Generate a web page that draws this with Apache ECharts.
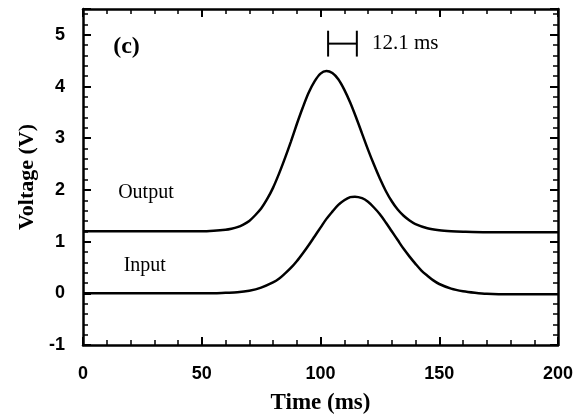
<!DOCTYPE html>
<html>
<head>
<meta charset="utf-8">
<script src="https://cdn.jsdelivr.net/npm/echarts@6/dist/echarts.min.js"></script>
<style>html,body{margin:0;padding:0;background:#fff;}#c{width:587px;height:415px;}</style>
</head>
<body>
<div id="c"></div>
<script>
// Output trace (time ms, voltage V)
const outputTime = [0,10,20,30,40,50,55,60,62.5,65,67.5,70,72.5,75,77.5,80,82.5,85,87.5,90,92.5,95,97.5,100,102.5,105,107.5,110,112.5,115,117.5,120,122.5,125,127.5,130,132.5,135,137.5,140,145,150,155,160,170,180,190,200];
const outputVolt = [1.2,1.2,1.2,1.2,1.2,1.2,1.21,1.23,1.25,1.28,1.33,1.4,1.51,1.64,1.82,2.04,2.31,2.61,2.93,3.27,3.59,3.88,4.1,4.25,4.3,4.26,4.14,3.94,3.69,3.4,3.09,2.78,2.49,2.22,1.98,1.78,1.62,1.5,1.41,1.34,1.26,1.22,1.2,1.19,1.18,1.18,1.18,1.18];
// Input trace
const inputTime = [0,10,20,30,40,50,55,60,65,70,75,80,82.5,85,87.5,90,92.5,95,97.5,100,102.5,105,107.5,110,112.5,114.5,117.5,120,122.5,125,127.5,130,132.5,135,137.5,140,142.5,145,147.5,150,155,160,165,170,180,190,200];
const inputVolt = [0,0,0,0,0,0,0,0.01,0.02,0.05,0.11,0.21,0.28,0.38,0.49,0.62,0.77,0.93,1.1,1.27,1.44,1.58,1.71,1.8,1.86,1.87,1.84,1.77,1.66,1.53,1.37,1.2,1.03,0.86,0.71,0.57,0.44,0.34,0.25,0.18,0.09,0.04,0.01,-0.01,-0.02,-0.02,-0.02];
// Annotation: delay bracket
const bracketStart = 103.2, bracketEnd = 115.3, bracketY = 4.83, bracketHalf = 0.25;
const bracketText = '12.1 ms';
// Labels
const textLabels = [
  {name:'(c)', x:18.3, y:4.77, style:'panel'},
  {name:'Output', x:26.5, y:1.94, style:'curve'},
  {name:'Input', x:26, y:0.54, style:'curve'}
];
const xTicks = {min:0, max:200, interval:50};
const yTicks = {min:-1, max:5.5, interval:1};

function zip(a,b){return a.map((v,i)=>[v,b[i]]);}

const chart = echarts.init(document.getElementById('c'));
const axisLine = {show:true, onZero:false, lineStyle:{color:'#000', width:2.5}};
const sansLabel = {color:'#000', fontFamily:'Liberation Sans', fontWeight:'bold', fontSize:18};
const serifBold = {fontFamily:'Liberation Serif', fontWeight:'bold', color:'#000'};

function xAxis(pos, labels){
  return {type:'value', position:pos, min:xTicks.min, max:xTicks.max, interval:xTicks.interval,
    axisLine:axisLine, splitLine:{show:false},
    axisTick:{show:true, inside:true, length:8, lineStyle:{color:'#000', width:2}},
    minorTick:{show:true, splitNumber:5, length:5, lineStyle:{color:'#000', width:1.5}},
    axisLabel:Object.assign({show:labels, margin:20}, sansLabel),
    name: labels ? 'Time (ms)' : '', nameLocation:'middle', nameGap:47,
    nameTextStyle:Object.assign({fontSize:23}, serifBold)};
}
function yAxis(pos, labels){
  return {type:'value', position:pos, min:yTicks.min, max:yTicks.max, interval:yTicks.interval,
    axisLine:axisLine, splitLine:{show:false},
    axisTick:{show:true, inside:true, length:8, lineStyle:{color:'#000', width:2}},
    minorTick:{show:true, splitNumber:5, length:5, lineStyle:{color:'#000', width:1.5}},
    axisLabel:Object.assign({show:labels, margin:18, formatter:function(v){return (v===5.5)?'':String(v);}}, sansLabel),
    name: labels ? 'Voltage (V)' : '', nameLocation:'middle', nameGap:45, nameRotate:90,
    nameTextStyle:Object.assign({fontSize:22}, serifBold)};
}

const labelSeries = {
  type:'scatter', xAxisIndex:0, yAxisIndex:0, symbolSize:0, silent:true,
  itemStyle:{opacity:1},
  data: textLabels.map(l=>({name:l.name, value:[l.x,l.y],
    label:{show:true, position:'inside', formatter:'{b}', color:'#000', opacity:1,
      fontFamily:'Liberation Serif', fontWeight: l.style==='panel'?'bold':'normal',
      fontSize: l.style==='panel'?24:20}}))
};

chart.setOption({
  animation:false,
  backgroundColor:'#fff',
  grid:{left:83, right:29, top:9, bottom:70, containLabel:false, outerBoundsMode:'none'},
  xAxis:[xAxis('bottom', true), xAxis('top', false)],
  yAxis:[yAxis('left', true), yAxis('right', false)],
  series:[
    {type:'line', data:zip(outputTime, outputVolt), smooth:0.3, symbol:'none', lineStyle:{color:'#000', width:2.5}},
    {type:'line', data:zip(inputTime, inputVolt), smooth:0.3, symbol:'none', lineStyle:{color:'#000', width:2.5}},
    {type:'line', data:[[bracketStart,bracketY],[bracketEnd,bracketY]], symbol:'none', lineStyle:{color:'#000', width:2}},
    {type:'line', data:[[bracketStart,bracketY-bracketHalf],[bracketStart,bracketY+bracketHalf]], symbol:'none', lineStyle:{color:'#000', width:2}},
    {type:'line', data:[[bracketEnd,bracketY-bracketHalf],[bracketEnd,bracketY+bracketHalf]], symbol:'none', lineStyle:{color:'#000', width:2}},
    {type:'scatter', symbolSize:0, silent:true, itemStyle:{opacity:1},
      data:[{name:bracketText, value:[bracketEnd+6.4, bracketY]}],
      label:{show:true, position:'right', distance:0, formatter:'{b}', color:'#000', opacity:1, fontFamily:'Liberation Serif', fontSize:21}},
    labelSeries
  ]
});
</script>
</body>
</html>
